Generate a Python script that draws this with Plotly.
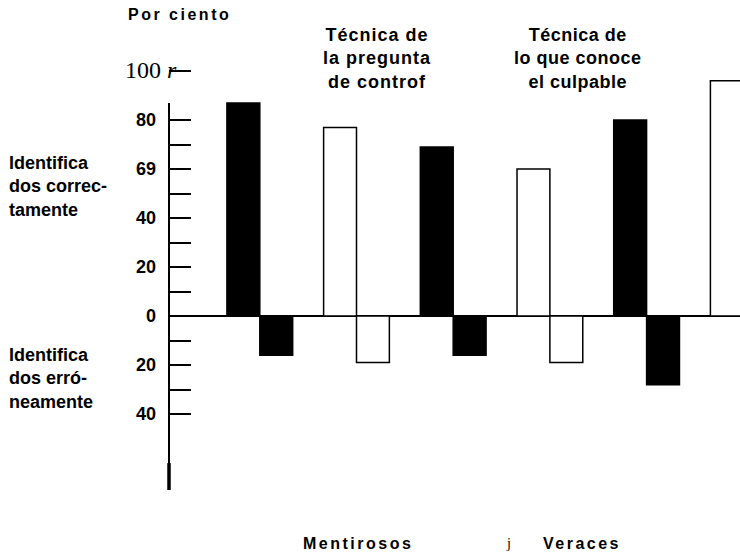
import plotly.graph_objects as go

# ---- data ----
groups = ["Mentirosos", "Veraces", "Mentirosos", "Veraces", "Mentirosos", "Veraces"]
correct = [87, 77, 69, 60, 80, 96]          # identificados correctamente (%)
wrong = [16, 19, 16, 19, 28, None]          # identificados erróneamente (%)
tick_vals = [100, 80, 70, 60, 50, 40, 30, 20, 10, 0, -10, -20, -30, -40]
tick_text = ["", "80", "", "69", "", "40", "", "20", "", "0", "", "20", "", "40"]
top_label = "100"
technique_titles = [["Técnica de", "la pregunta", "de controf"],
                    ["Técnica de", "lo que conoce", "el culpable"]]

# ---- layout geometry (pixels) ----
W, H = 740, 555
L, R, T, B = 169, 0, 62, 65
PW, PH = W - L - R, H - T - B


def px(x):
    return (x - L) / PW


def py(y):
    return (H - B - y) / PH


xs = list(range(len(groups)))
fills = ["black" if g == "Mentirosos" else "white" for g in groups]
neg = [-v if v is not None else None for v in wrong]

fig = go.Figure()
fig.add_trace(go.Bar(x=xs, y=correct, width=0.34, offset=-0.34,
                     marker=dict(color=fills, line=dict(color="black", width=1.5)),
                     showlegend=False, hoverinfo="skip"))
fig.add_trace(go.Bar(x=xs, y=neg, width=0.34, offset=0,
                     marker=dict(color=fills, line=dict(color="black", width=1.5)),
                     showlegend=False, hoverinfo="skip"))

SANS = "Liberation Sans"
SERIF = "Liberation Serif"

fig.update_layout(
    width=W, height=H,
    margin=dict(l=L, r=R, t=T, b=B, pad=0),
    paper_bgcolor="white", plot_bgcolor="white",
    barmode="overlay",
    xaxis=dict(range=[-0.939, 4.966], visible=False, fixedrange=True),
    yaxis=dict(range=[-71, 103.7], showgrid=False, showline=False,
               zeroline=True, zerolinecolor="black", zerolinewidth=1.5,
               tickmode="array", tickvals=tick_vals, ticktext=tick_text,
               ticks="inside", ticklen=22, tickwidth=2, tickcolor="black",
               ticklabelstandoff=12,
               tickfont=dict(family=SANS, size=18, color="black", weight="bold")),
    shapes=[dict(type="line", xref="paper", yref="y", x0=0, x1=0, y0=-71, y1=87,
                 line=dict(color="black", width=2), layer="above"),
            dict(type="line", xref="paper", yref="y", x0=0, x1=0, y0=-60, y1=-71,
                 line=dict(color="black", width=3.5), layer="above")],
)


def ann(text, x, y, xanchor="center", size=18, family=SANS, align="center",
        weight="bold", spacing=None):
    if spacing:
        text = "<br>".join('<span style="letter-spacing:%.1fpx">%s</span>' % (spacing, t)
                           for t in text.split("<br>"))
    fig.add_annotation(text=text, xref="paper", yref="paper", x=px(x), y=py(y),
                       xanchor=xanchor, yanchor="middle", showarrow=False,
                       align=align,
                       font=dict(family=family, size=size, color="black", weight=weight))


ann("Por ciento", 179, 15, size=16, spacing=2.5, weight=900)
ann("<br>".join(technique_titles[0]), 377, 58, spacing=1)
ann("<br>".join(technique_titles[1]), 578, 58, spacing=0.5)
ann("Identifica<br>dos correc-<br>tamente", 7, 186, xanchor="left", align="left")
ann("Identifica<br>dos erró-<br>neamente", 7, 378, xanchor="left", align="left")
ann(groups[0], 358, 543, size=16, spacing=2.5, weight=900)
ann("j", 508, 543, size=14, family=SERIF, weight="normal")
ann(groups[1], 582, 543, size=16, spacing=2.5, weight=900)
ann(top_label + " <i>r</i>", 179, 70, xanchor="right", size=24, family=SERIF,
    weight="normal")

fig.write_html("out.html", config={"displayModeBar": False},
               post_script="document.body.style.margin='0';")
